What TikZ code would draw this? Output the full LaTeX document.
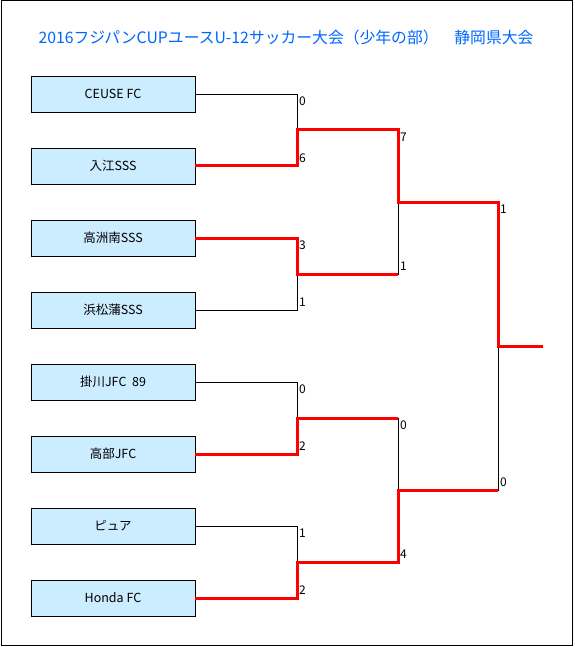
\documentclass[tikz,border=0pt]{standalone}
\usepackage{fontspec}
\setmainfont{Noto Sans CJK JP}
\usetikzlibrary{positioning}
\definecolor{TitleBlue}{RGB}{0,102,255}
\definecolor{TeamBlue}{RGB}{204,236,255}
\definecolor{WinRed}{RGB}{255,0,0}

\begin{document}
\begin{tikzpicture}[x=1pt,y=-1pt,
    team/.style={draw,fill=TeamBlue,line width=0.8pt,minimum width=164pt,
      minimum height=36pt,inner sep=0pt,font=\fontsize{12.5}{14}\selectfont},
    lose/.style={line width=0.8pt},
    win/.style={WinRed,line width=3pt},
    score/.style={inner xsep=2pt,inner ysep=3pt,font=\fontsize{12}{14}\selectfont},
    headline/.style={TitleBlue,font=\fontsize{15.8}{18}\selectfont}]
  \useasboundingbox (0,0) rectangle (574,647);
  \draw[line width=1pt] (1,1) rectangle (572,645);
  \node[headline] (title) at (286,37) {2016フジパンCUPユースU-12サッカー大会（少年の部）　静岡県大会};

  \node[team] (t1) at (113,94) {CEUSE FC};
  \node[team] (t2) at (113,166) {入江SSS};
  \node[team] (t3) at (113,238) {高洲南SSS};
  \node[team] (t4) at (113,310) {浜松蒲SSS};
  \node[team] (t5) at (113,382) {掛川JFC\ \ 89};
  \node[team] (t6) at (113,454) {高部JFC};
  \node[team] (t7) at (113,526) {ピュア};
  \node[team] (t8) at (113,598) {Honda FC};

  \coordinate (m1) at (297,130);
  \coordinate (m2) at (297,274);
  \coordinate (m3) at (297,418);
  \coordinate (m4) at (297,562);
  \coordinate (q1) at (398,202);
  \coordinate (q2) at (398,490);
  \coordinate (fin) at (498,346);
  \coordinate (champ) at (543,346);

  \draw[lose] (t1.east) -| (m1);
  \draw[lose] (t2.east) -| (m1);
  \draw[lose] (t3.east) -| (m2);
  \draw[lose] (t4.east) -| (m2);
  \draw[lose] (t5.east) -| (m3);
  \draw[lose] (t6.east) -| (m3);
  \draw[lose] (t7.east) -| (m4);
  \draw[lose] (t8.east) -| (m4);
  \draw[lose] (m1) -| (q1);
  \draw[lose] (m2) -| (q1);
  \draw[lose] (m3) -| (q2);
  \draw[lose] (m4) -| (q2);
  \draw[lose] (q1) -| (fin);
  \draw[lose] (q2) -| (fin);

  \draw[win] (t2.east) -| (m1) -| (q1) -| (fin) -- (champ);
  \draw[win] (t3.east) -| (m2) -- (m2 -| q1);
  \draw[win] (t6.east) -| (m3) -- (m3 -| q2);
  \draw[win] (t8.east) -| (m4) -| (q2) -- (q2 -| fin);

  \node[score,below right] (s1) at (t1.east -| m1) {0};
  \node[score,above right] (s2) at (t2.east -| m1) {6};
  \node[score,below right] (s3) at (t3.east -| m2) {3};
  \node[score,above right] (s4) at (t4.east -| m2) {1};
  \node[score,below right] (s5) at (t5.east -| m3) {0};
  \node[score,above right] (s6) at (t6.east -| m3) {2};
  \node[score,below right] (s7) at (t7.east -| m4) {1};
  \node[score,above right] (s8) at (t8.east -| m4) {2};
  \node[score,below right] (s9) at (m1 -| q1) {7};
  \node[score,above right] (s10) at (m2 -| q1) {1};
  \node[score,below right] (s11) at (m3 -| q2) {0};
  \node[score,above right] (s12) at (m4 -| q2) {4};
  \node[score,below right] (s13) at (q1 -| fin) {1};
  \node[score,above right] (s14) at (q2 -| fin) {0};
\end{tikzpicture}
\end{document}
